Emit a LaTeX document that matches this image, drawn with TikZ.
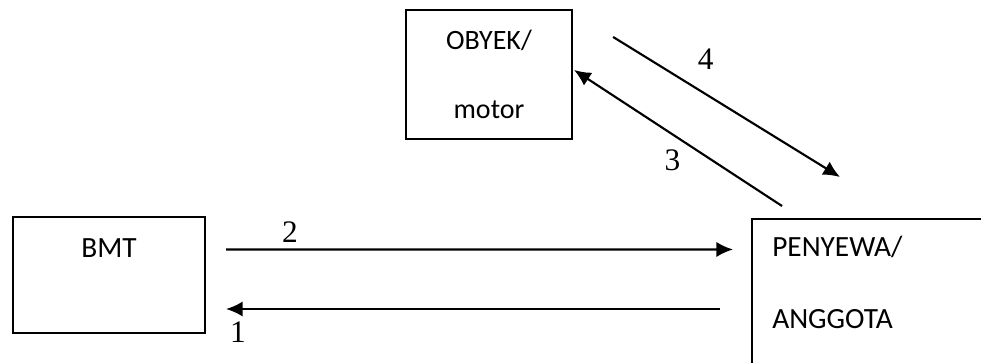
\documentclass[tikz,border=0pt]{standalone}
\usepackage{fontspec}
\setmainfont{Carlito}
\newfontfamily\numfont{Liberation Serif}
\usepackage{tikz}
\usetikzlibrary{arrows.meta}
\usetikzlibrary{positioning}
\tikzstyle{block} = [
	draw,
	rectangle,
	line width = 1.6pt,
	inner sep = 0pt
]
\tikzstyle{txt} = [font=\fontsize{21}{52}\selectfont, inner sep=0pt]
\tikzstyle{bigtxt} = [font=\fontsize{22}{53}\selectfont, inner sep=0pt]
\tikzstyle{num} = [font=\numfont\fontsize{23.5}{28}\selectfont, inner sep=0pt]
\tikzstyle{flow} = [line width=1.6pt, -{Latex[length=12.5pt,width=11.5pt]}]

\begin{document}
\begin{tikzpicture}[x=0.75pt, y=-0.75pt]
	\useasboundingbox (0,0) rectangle (981,362);
	\node [block, minimum width=124.5pt, minimum height=96.75pt] (obyek) at (489,74.5) {};
	\node [txt, align=center] (obyektxt) at (obyek) {OBYEK/\\motor};
	\node [block, minimum width=144pt, minimum height=87pt] (bmt) at (109,275) {};
	\node [bigtxt, anchor=base] (bmttxt) at (109,257.3) {BMT};
	\node [block, anchor=north west, minimum width=200pt, minimum height=130pt] (penyewa) at (751,218) {};
	\node [bigtxt, align=left, anchor=north west] (penyewatxt) at (772,236) {PENYEWA/\\[1pt]ANGGOTA};
	
	
	\draw[flow] ([xshift=15pt,yshift=19.1pt]bmt.east) -- ([xshift=-13.5pt,yshift=-23.6pt]penyewa.north west) node[num, pos=0.126, yshift=13.1pt]{2};
	\draw[flow] ([xshift=-23.25pt,yshift=-68.25pt]penyewa.north west) -- ([xshift=15pt,yshift=-25.5pt]bmt.east) node[num, pos=0.976, yshift=-17.25pt]{1};
	\draw[flow] ([xshift=23.25pt,yshift=9pt]penyewa.north west) -- ([xshift=0.75pt,yshift=3.4pt]obyek.east) node[num, pos=0.47, xshift=-8.85pt, yshift=-13.4pt]{3};
	\draw[flow] ([xshift=30pt,yshift=-21pt]obyek.north east) -- ([xshift=66.75pt,yshift=30.75pt]penyewa.north west) node[num, pos=0.34, xshift=11.6pt, yshift=19pt]{4};
	
\end{tikzpicture}
\end{document}
